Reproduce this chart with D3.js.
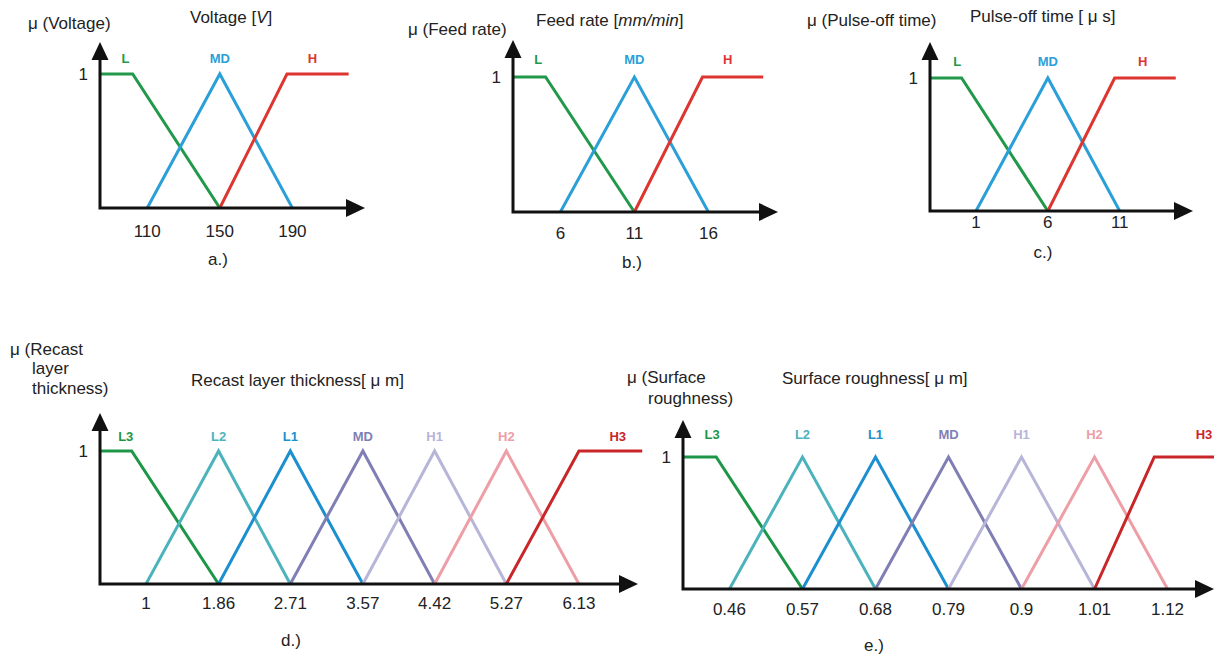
<!DOCTYPE html>
<html>
<head>
<meta charset="utf-8">
<script src="https://cdn.jsdelivr.net/npm/d3@7.9.0/dist/d3.min.js"></script>
<style>
  body { margin: 0; background: #fff; }
  svg text { font-family: "Liberation Sans", Arial, sans-serif; fill: #222; }
</style>
</head>
<body>
<svg id="chart" width="1215" height="657"></svg>
<script>
// ---- data: membership functions, [x, mu] ----
const threeNames = ["L", "MD", "H"];
const sevenNames = ["L3", "L2", "L1", "MD", "H1", "H2", "H3"];

const voltageTicks = [110, 150, 190];
const voltageSeries = [
  [[84, 1], [102, 1], [150, 0]],
  [[110, 0], [150, 1], [190, 0]],
  [[150, 0], [187, 1], [221, 1]]
];
const voltageLabelX = [98, 150, 201];

const feedTicks = [6, 11, 16];
const feedSeries = [
  [[2.8, 1], [5, 1], [11, 0]],
  [[6, 0], [11, 1], [16, 0]],
  [[11, 0], [15.6, 1], [19.7, 1]]
];
const feedLabelX = [4.5, 11, 17.3];

const pulseTicks = [1, 6, 11];
const pulseSeries = [
  [[-2.2, 1], [0, 1], [6, 0]],
  [[1, 0], [6, 1], [11, 0]],
  [[6, 0], [10.65, 1], [14.9, 1]]
];
const pulseLabelX = [-0.3, 6, 12.6];

const recastTicks = [1, 1.86, 2.71, 3.57, 4.42, 5.27, 6.13];
const recastSeries = [
  [[0.455, 1], [0.83, 1], [1.86, 0]],
  [[1, 0], [1.86, 1], [2.71, 0]],
  [[1.86, 0], [2.71, 1], [3.57, 0]],
  [[2.71, 0], [3.57, 1], [4.42, 0]],
  [[3.57, 0], [4.42, 1], [5.27, 0]],
  [[4.42, 0], [5.27, 1], [6.13, 0]],
  [[5.27, 0], [6.13, 1], [6.88, 1]]
];
const recastLabelX = [0.76, 1.86, 2.71, 3.57, 4.42, 5.27, 6.59];

const roughTicks = [0.46, 0.57, 0.68, 0.79, 0.9, 1.01, 1.12];
const roughSeries = [
  [[0.39, 1], [0.44, 1], [0.57, 0]],
  [[0.46, 0], [0.57, 1], [0.68, 0]],
  [[0.57, 0], [0.68, 1], [0.79, 0]],
  [[0.68, 0], [0.79, 1], [0.9, 0]],
  [[0.79, 0], [0.9, 1], [1.01, 0]],
  [[0.9, 0], [1.01, 1], [1.12, 0]],
  [[1.01, 0], [1.1, 1], [1.19, 1]]
];
const roughLabelX = [0.434, 0.57, 0.68, 0.79, 0.9, 1.01, 1.175];

// colours
const threeColors = ["#22984a", "#2a9fd8", "#dd3530"];
const sevenColors = ["#1e9648", "#4cb3bd", "#1b8fcf", "#7f7fb5", "#b7b5d8", "#ee9ea6", "#c9262a"];

// ---- layout of each small panel ----
const panels = [
  { names: threeNames, series: voltageSeries, labelX: voltageLabelX, ticks: voltageTicks, colors: threeColors,
    domain: [84, 230], ox: 100, oy: 208, y1: 74, topY: 42, tipX: 365, labelY: 58, tickY: 231,
    caption: "a.)", capX: 218, capY: 259,
    muLines: [["μ (Voltage)", 28, 23]],
    title: [["Voltage [", false], ["V", true], ["]", false]], titleX: 190, titleY: 17 },
  { names: threeNames, series: feedSeries, labelX: feedLabelX, ticks: feedTicks, colors: threeColors,
    domain: [2.8, 20.7], ox: 513, oy: 212, y1: 77, topY: 40, tipX: 778, labelY: 59, tickY: 233,
    caption: "b.)", capX: 632, capY: 262,
    muLines: [["μ (Feed rate)", 408, 29]],
    title: [["Feed rate [", false], ["mm/min", true], ["]", false]], titleX: 536, titleY: 20 },
  { names: threeNames, series: pulseSeries, labelX: pulseLabelX, ticks: pulseTicks, colors: threeColors,
    domain: [-2.2, 16.1], ox: 930, oy: 211, y1: 78, topY: 42, tipX: 1193, labelY: 61, tickY: 222,
    caption: "c.)", capX: 1043, capY: 252,
    muLines: [["μ (Pulse-off time)", 807, 20]],
    title: [["Pulse-off time [ μ s]", false]], titleX: 970, titleY: 16 },
  { names: sevenNames, series: recastSeries, labelX: recastLabelX, ticks: recastTicks, colors: sevenColors,
    domain: [0.455, 6.83], ox: 100, oy: 584, y1: 451, topY: 413, tipX: 638, labelY: 436, tickY: 603,
    caption: "d.)", capX: 291, capY: 640,
    muLines: [["μ (Recast", 10, 349], ["layer", 32, 368], ["thickness)", 32, 388]],
    title: [["Recast layer thickness[ μ m]", false]], titleX: 191, titleY: 380 },
  { names: sevenNames, series: roughSeries, labelX: roughLabelX, ticks: roughTicks, colors: sevenColors,
    domain: [0.39, 1.19], ox: 683, oy: 589, y1: 457, topY: 420, tipX: 1214, labelY: 434, tickY: 609,
    caption: "e.)", capX: 874, capY: 645,
    muLines: [["μ (Surface", 627, 377], ["roughness)", 648, 398]],
    title: [["Surface roughness[ μ m]", false]], titleX: 782, titleY: 378 }
];

const svg = d3.select("#chart");

function drawPanel(p) {
  const g = svg.append("g");
  const x = d3.scaleLinear().domain(p.domain).range([p.ox, p.tipX]);
  const y = d3.scaleLinear().domain([0, 1]).range([p.oy, p.y1]);
  const line = d3.line().x(d => x(d[0])).y(d => y(d[1]));

  // membership lines
  p.series.forEach((s, i) => {
    g.append("path")
      .attr("d", line(s))
      .attr("fill", "none")
      .attr("stroke", p.colors[i])
      .attr("stroke-width", 3)
      .attr("stroke-linejoin", "miter");
  });

  // axes with arrow heads
  g.append("path")
    .attr("d", `M${p.ox},${p.topY + 14}V${p.oy}H${p.tipX - 14}`)
    .attr("fill", "none")
    .attr("stroke", "#111")
    .attr("stroke-width", 3);
  g.append("path")
    .attr("d", `M${p.ox},${p.topY}L${p.ox - 8.5},${p.topY + 18}L${p.ox + 8.5},${p.topY + 18}Z`)
    .attr("fill", "#111");
  g.append("path")
    .attr("d", `M${p.tipX},${p.oy}L${p.tipX - 19},${p.oy - 9}L${p.tipX - 19},${p.oy + 9}Z`)
    .attr("fill", "#111");

  // set labels
  p.names.forEach((n, i) => {
    g.append("text")
      .attr("x", x(p.labelX[i]))
      .attr("y", p.labelY)
      .attr("text-anchor", "middle")
      .attr("dominant-baseline", "central")
      .attr("font-size", 13)
      .attr("font-weight", "bold")
      .style("fill", p.colors[i])
      .text(n);
  });

  // tick labels
  g.selectAll(".tick")
    .data(p.ticks)
    .join("text")
    .attr("x", d => x(d))
    .attr("y", p.tickY)
    .attr("text-anchor", "middle")
    .attr("dominant-baseline", "central")
    .attr("font-size", 17)
    .text(d => d);

  // "1" on the membership axis
  g.append("text")
    .attr("x", p.ox - 12)
    .attr("y", y(1))
    .attr("text-anchor", "end")
    .attr("dominant-baseline", "central")
    .attr("font-size", 17)
    .text("1");

  // caption
  g.append("text")
    .attr("x", p.capX)
    .attr("y", p.capY)
    .attr("text-anchor", "middle")
    .attr("dominant-baseline", "central")
    .attr("font-size", 17)
    .text(p.caption);

  // mu axis title
  p.muLines.forEach(([t, tx, ty]) => {
    g.append("text")
      .attr("x", tx)
      .attr("y", ty)
      .attr("dominant-baseline", "central")
      .attr("font-size", 17)
      .text(t);
  });

  // x axis title (some parts italic)
  const tt = g.append("text")
    .attr("x", p.titleX)
    .attr("y", p.titleY)
    .attr("dominant-baseline", "central")
    .attr("font-size", 17);
  p.title.forEach(([t, it]) => {
    tt.append("tspan").attr("font-style", it ? "italic" : "normal").text(t);
  });
}

panels.forEach(drawPanel);
</script>
</body>
</html>
